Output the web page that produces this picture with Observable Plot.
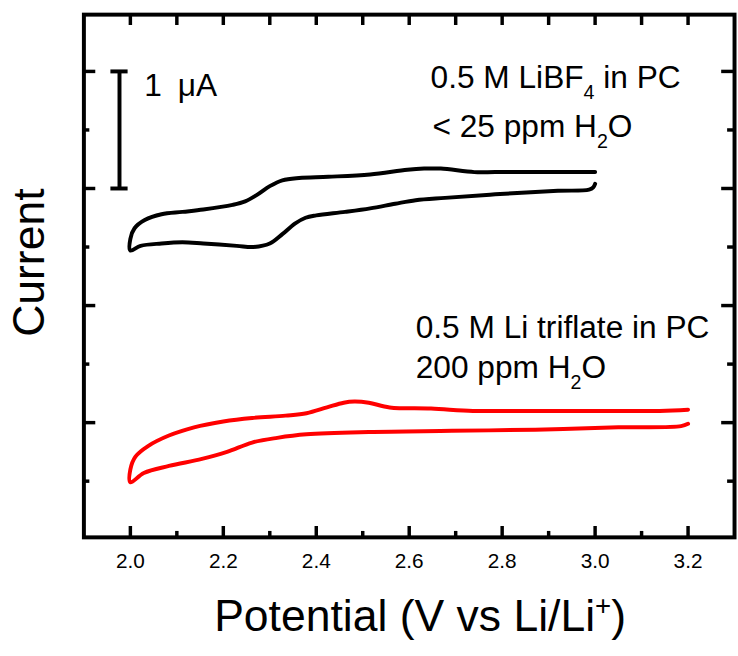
<!DOCTYPE html>
<html>
<head>
<meta charset="utf-8">
<script src="https://cdn.jsdelivr.net/npm/d3@7"></script>
<script src="https://cdn.jsdelivr.net/npm/@observablehq/plot@0.6"></script>
<style>
  html, body { margin: 0; padding: 0; background: #fff; width: 738px; height: 656px; overflow: hidden; }
  svg { display: block; }
</style>
</head>
<body>
<div id="chart"></div>
<script>
// ---- Data ----
// Black CV: 0.5 M LiBF4 in PC (< 25 ppm H2O); cathodic branch then anodic branch
const blackPotential = [3.0, 2.996, 2.987, 2.92, 2.785, 2.677, 2.614, 2.57, 2.516, 2.462, 2.40, 2.377, 2.354, 2.327, 2.30, 2.265, 2.229, 2.157, 2.112, 2.067, 2.022, 2.0,
  2.0, 2.009, 2.031, 2.067, 2.112, 2.157, 2.22, 2.247, 2.274, 2.30, 2.327, 2.363, 2.426, 2.516, 2.596, 2.632, 2.668, 2.74, 2.785, 2.874, 3.0];
const blackCurrent = [3.04, 3.01, 2.99, 2.98, 2.95, 2.92, 2.90, 2.87, 2.83, 2.80, 2.77, 2.75, 2.70, 2.61, 2.53, 2.50, 2.51, 2.53, 2.54, 2.53, 2.51, 2.47,
  2.57, 2.66, 2.73, 2.78, 2.80, 2.82, 2.86, 2.89, 2.95, 3.02, 3.07, 3.09, 3.10, 3.12, 3.16, 3.17, 3.17, 3.14, 3.14, 3.14, 3.14];

// Red CV: 0.5 M Li triflate in PC (200 ppm H2O)
const redPotential = [3.2, 3.185, 3.05, 2.871, 2.692, 2.513, 2.379, 2.316, 2.262, 2.208, 2.154, 2.083, 2.029, 2.0,
  2.0, 2.011, 2.038, 2.083, 2.137, 2.20, 2.262, 2.334, 2.379, 2.423, 2.459, 2.482, 2.513, 2.558, 2.647, 2.737, 2.825, 2.96, 3.139, 3.2];
const redCurrent = [0.99, 0.97, 0.96, 0.94, 0.93, 0.92, 0.90, 0.87, 0.83, 0.75, 0.69, 0.63, 0.57, 0.49,
  0.60, 0.71, 0.80, 0.89, 0.96, 1.01, 1.04, 1.06, 1.08, 1.13, 1.17, 1.18, 1.17, 1.13, 1.12, 1.10, 1.10, 1.10, 1.10, 1.11];

// Axis ticks
const xMajorTicks = [2.0, 2.2, 2.4, 2.6, 2.8, 3.0, 3.2];
const xMinorTicks = [2.1, 2.3, 2.5, 2.7, 2.9, 3.1];
const xTopTicks = [2.0, 2.1, 2.2, 2.3, 2.4, 2.5, 2.6, 2.7, 2.8, 2.9, 3.0, 3.1, 3.2];
const yMajorTicks = [1, 2, 3, 4];
const yMinorTicks = [0.5, 1.5, 2.5, 3.5];

// Scale bar (1 µA)
const scaleBarCurrent = [3, 4];
const scaleBarLabel = ["1\u2002\u03bcA"];

// Texts ("_x" = subscript, "^x" = superscript)
const blackLabels = ["0.5 M LiBF_4 in PC", "< 25 ppm H_2O"];
const redLabels = ["0.5 M Li triflate in PC", "200 ppm H_2O"];
const xAxisLabel = ["Potential (V vs Li/Li^+)"];
const yAxisLabel = ["Current"];

// ---- Build ----
const black = blackPotential.map((v, i) => ({v, i: blackCurrent[i]}));
const red = redPotential.map((v, i) => ({v, i: redCurrent[i]}));

const W = 746, H = 656, mL = 84.3, mR = 4, mT = 14.3, mB = 113.3;
const innerW = W - mL - mR, innerH = H - mT - mB;
const font = "'Liberation Sans', Arial, Helvetica, sans-serif";
const scaleBarV = 1.9766, capHalf = 0.0185;
const annot = {textAnchor: "start", lineAnchor: "bottom", fontSize: 32, fill: "black", text: d => d};

const chart = Plot.plot({
  width: W, height: H,
  marginLeft: mL, marginRight: mR, marginTop: mT, marginBottom: mB,
  x: {domain: [1.9, 3.3], axis: null},
  y: {domain: [0.02, 4.485], axis: null},
  style: {fontFamily: font, background: "white", overflow: "visible", color: "black"},
  marks: [
    // curves
    Plot.line(black, {x: "v", y: "i", stroke: "black", strokeWidth: 4, curve: "catmull-rom"}),
    Plot.line(red, {x: "v", y: "i", stroke: "#ff0000", strokeWidth: 4, curve: "catmull-rom"}),
    // inward ticks
    Plot.ruleX(xMajorTicks, {x: d => d, insetTop: innerH - 11, stroke: "black", strokeWidth: 3.5}),
    Plot.ruleX(xMinorTicks, {x: d => d, insetTop: innerH - 6, stroke: "black", strokeWidth: 3.5}),
    Plot.ruleX(xTopTicks, {x: d => d, insetBottom: innerH - 11, stroke: "black", strokeWidth: 3.5}),
    Plot.ruleY(yMajorTicks, {y: d => d, insetRight: innerW - 12, stroke: "black", strokeWidth: 3.5}),
    Plot.ruleY(yMinorTicks, {y: d => d, insetRight: innerW - 6, stroke: "black", strokeWidth: 3.5}),
    Plot.ruleY(yMajorTicks, {y: d => d, insetLeft: innerW - 13, stroke: "black", strokeWidth: 3.5}),
    Plot.ruleY(yMinorTicks, {y: d => d, insetLeft: innerW - 7, stroke: "black", strokeWidth: 3.5}),
    Plot.frame({stroke: "black", strokeWidth: 4}),
    // tick labels
    Plot.text(xMajorTicks, {x: d => d, frameAnchor: "bottom", lineAnchor: "bottom", dy: 31, text: d => d.toFixed(1), fontSize: 21, fill: "black"}),
    // scale bar
    Plot.ruleX([scaleBarV], {x: d => d, y1: scaleBarCurrent[0], y2: scaleBarCurrent[1], stroke: "black", strokeWidth: 4}),
    Plot.ruleY(scaleBarCurrent, {y: d => d, x1: scaleBarV - capHalf, x2: scaleBarV + capHalf, stroke: "black", strokeWidth: 4}),
    Plot.text(scaleBarLabel, {...annot, x: 2.030, y: 3.79}),
    // annotations
    Plot.text([blackLabels[0]], {...annot, x: 2.646, y: 3.86}),
    Plot.text([blackLabels[1]], {...annot, x: 2.650, y: 3.44}),
    Plot.text([redLabels[0]], {...annot, x: 2.614, y: 1.72}),
    Plot.text([redLabels[1]], {...annot, x: 2.614, y: 1.38}),
    // axis titles
    Plot.text(xAxisLabel, {frameAnchor: "bottom", textAnchor: "middle", lineAnchor: "bottom", dx: 11, dy: 95, text: d => d, fontSize: 45, fill: "black"}),
    Plot.text(yAxisLabel, {frameAnchor: "left", textAnchor: "middle", rotate: -90, lineAnchor: "bottom", dx: -40, dy: -13.5, text: d => d, fontSize: 45, fill: "black"})
  ]
});

// Turn "_x" / "^x" markers into real subscript / superscript tspans
function applyScripts(svg) {
  const ns = "http://www.w3.org/2000/svg";
  svg.querySelectorAll("text").forEach(t => {
    const s = t.textContent;
    if (!/[_^]/.test(s)) return;
    const parts = [];
    let buf = "";
    for (let k = 0; k < s.length; k++) {
      const c = s[k];
      if ((c === "_" || c === "^") && k + 1 < s.length) {
        if (buf) parts.push({text: buf, kind: "n"});
        buf = "";
        parts.push({text: s[k + 1], kind: c === "_" ? "sub" : "sup"});
        k++;
      } else buf += c;
    }
    if (buf) parts.push({text: buf, kind: "n"});
    t.textContent = "";
    const scale = 0.62;
    let offset = 0;
    for (const p of parts) {
      const ts = document.createElementNS(ns, "tspan");
      const target = p.kind === "sub" ? 0.34 : p.kind === "sup" ? -0.36 : 0;
      const shift = target - offset;
      if (p.kind === "n") {
        if (shift) ts.setAttribute("dy", shift + "em");
      } else {
        ts.setAttribute("font-size", (scale * 100) + "%");
        ts.setAttribute("dy", (shift / scale) + "em");
      }
      offset = target;
      ts.textContent = p.text;
      t.appendChild(ts);
    }
  });
}
applyScripts(chart);
document.getElementById("chart").appendChild(chart);
</script>
</body>
</html>
